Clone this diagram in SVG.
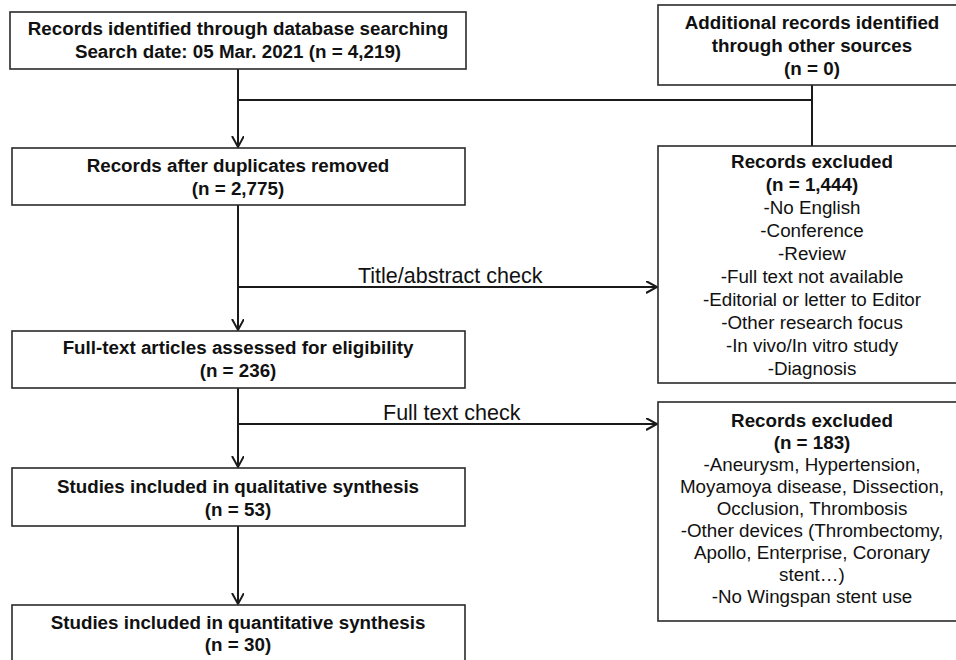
<svg xmlns="http://www.w3.org/2000/svg" width="956" height="660" viewBox="0 0 956 660">
<style>
  .box { fill: #ffffff; stroke: #2a2a2a; stroke-width: 1.6; }
  .b { font-family: "Liberation Sans", Arial, sans-serif; font-weight: bold; font-size: 18.8px; fill: #111; text-anchor: middle; }
  .r { font-family: "Liberation Sans", Arial, sans-serif; font-size: 18.8px; fill: #111; text-anchor: middle; }
  .lbl { font-family: "Liberation Sans", Arial, sans-serif; font-size: 21.5px; fill: #111; }
  .con { fill: none; stroke: #1a1a1a; stroke-width: 2; }
</style>
<defs>
  <marker id="arr" markerUnits="userSpaceOnUse" markerWidth="14" markerHeight="14" refX="11" refY="6" orient="auto">
    <path d="M0,0 L11,6 L0,12" fill="none" stroke="#1a1a1a" stroke-width="2"/>
  </marker>
</defs>
<rect width="956" height="660" fill="#ffffff"/>

<g id="connectors">
  <path class="con" d="M238,69 V147" marker-end="url(#arr)"/>
  <path class="con" d="M238,100 H812"/>
  <path class="con" d="M812,85 V146"/>
  <path class="con" d="M238,205 V330" marker-end="url(#arr)"/>
  <path class="con" d="M238,287 H657" marker-end="url(#arr)"/>
  <path class="con" d="M238,388 V467" marker-end="url(#arr)"/>
  <path class="con" d="M238,424 H657" marker-end="url(#arr)"/>
  <path class="con" d="M238,526 V604" marker-end="url(#arr)"/>
  <text class="lbl" x="358" y="283">Title/abstract check</text>
  <text class="lbl" x="383" y="420">Full text check</text>
</g>

<g id="identified">
  <rect class="box" x="10" y="12" width="456" height="57"/>
  <text class="b" x="238" y="35">Records identified through database searching</text>
  <text class="b" x="238" y="58">Search date: 05 Mar. 2021 (n = 4,219)</text>
</g>

<g id="additional">
  <rect class="box" x="658" y="5" width="320" height="80"/>
  <text class="b" x="812" y="29">Additional records identified</text>
  <text class="b" x="812" y="52">through other sources</text>
  <text class="b" x="812" y="75">(n = 0)</text>
</g>

<g id="duplicates">
  <rect class="box" x="12" y="148" width="453" height="57"/>
  <text class="b" x="238" y="172">Records after duplicates removed</text>
  <text class="b" x="238" y="195">(n = 2,775)</text>
</g>

<g id="excluded1">
  <rect class="box" x="658" y="146" width="320" height="237"/>
  <text class="b" x="812" y="168">Records excluded</text>
  <text class="b" x="812" y="191">(n = 1,444)</text>
  <text class="r" x="812" y="214">-No English</text>
  <text class="r" x="812" y="237">-Conference</text>
  <text class="r" x="812" y="260">-Review</text>
  <text class="r" x="812" y="283">-Full text not available</text>
  <text class="r" x="812" y="306">-Editorial or letter to Editor</text>
  <text class="r" x="812" y="329">-Other research focus</text>
  <text class="r" x="812" y="352">-In vivo/In vitro study</text>
  <text class="r" x="812" y="375">-Diagnosis</text>
</g>

<g id="fulltext">
  <rect class="box" x="12" y="331" width="453" height="57"/>
  <text class="b" x="238" y="354">Full-text articles assessed for eligibility</text>
  <text class="b" x="238" y="377">(n = 236)</text>
</g>

<g id="excluded2">
  <rect class="box" x="658" y="402" width="320" height="219"/>
  <text class="b" x="812" y="427">Records excluded</text>
  <text class="b" x="812" y="449">(n = 183)</text>
  <text class="r" x="812" y="471">-Aneurysm, Hypertension,</text>
  <text class="r" x="812" y="493">Moyamoya disease, Dissection,</text>
  <text class="r" x="812" y="515">Occlusion, Thrombosis</text>
  <text class="r" x="812" y="537">-Other devices (Thrombectomy,</text>
  <text class="r" x="812" y="559">Apollo, Enterprise, Coronary</text>
  <text class="r" x="812" y="581">stent…)</text>
  <text class="r" x="812" y="603">-No Wingspan stent use</text>
</g>

<g id="qualitative">
  <rect class="box" x="12" y="468" width="453" height="58"/>
  <text class="b" x="238" y="493">Studies included in qualitative synthesis</text>
  <text class="b" x="238" y="516">(n = 53)</text>
</g>

<g id="quantitative">
  <rect class="box" x="12" y="605" width="453" height="70"/>
  <text class="b" x="238" y="629">Studies included in quantitative synthesis</text>
  <text class="b" x="238" y="651">(n = 30)</text>
</g>
</svg>
